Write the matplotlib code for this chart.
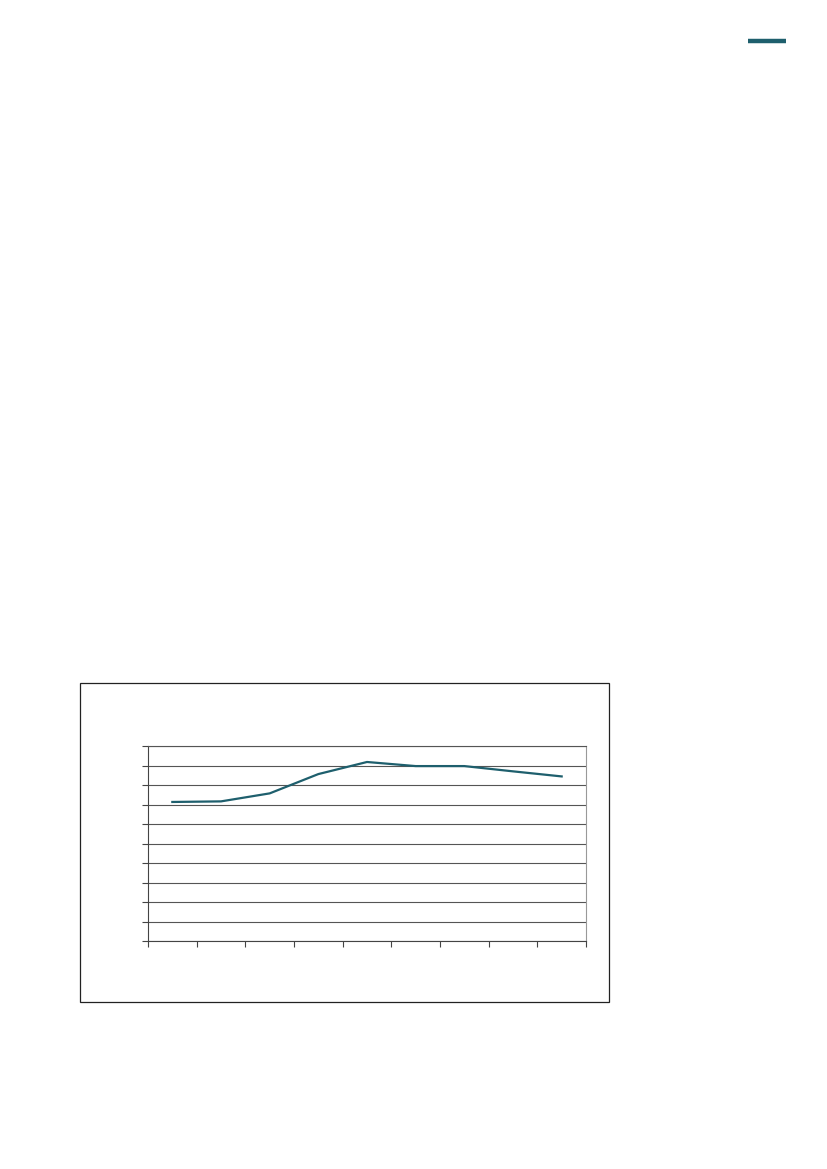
import matplotlib
matplotlib.use('Agg')
from matplotlib import pyplot as plt
from matplotlib.patches import Rectangle
from matplotlib.lines import Line2D

# nine categories, values on a 0-10 scale (no labels printed in the source)
categories = list(range(9))
values = [7.13, 7.16, 7.57, 8.56, 9.18, 8.97, 8.97, 8.70, 8.44]
y_ticks = list(range(0, 11))
x_edges = [i - 0.5 for i in range(10)]

teal = '#1e5f6d'

fig = plt.figure(figsize=(8.27, 11.69), dpi=100)

# outer chart frame
fig.patches.append(Rectangle((80 / 827, 1 - 1002 / 1169), 529 / 827, 319 / 1169,
                             transform=fig.transFigure, fill=False,
                             edgecolor='#222222', linewidth=0.9))

# small teal bar in the top right corner
fig.add_artist(Line2D([748 / 827, 786 / 827], [1 - 41 / 1169, 1 - 41 / 1169],
                      transform=fig.transFigure, color=teal, linewidth=3.2,
                      solid_capstyle='butt'))

ax = fig.add_axes([148 / 827, 1 - 941 / 1169, 438 / 827, 195 / 1169])
ax.plot(categories, values, color=teal, linewidth=1.6)

ax.set_xlim(-0.5, 8.5)
ax.set_ylim(0, 10)
ax.set_yticks(y_ticks)
ax.set_xticks(x_edges)
ax.set_yticklabels([])
ax.set_xticklabels([])
ax.tick_params(axis='both', direction='out', length=4, width=0.8, color='#444444')
ax.grid(axis='y', color='#555555', linewidth=0.8)
ax.set_axisbelow(True)

ax.spines['left'].set_color('#444444')
ax.spines['bottom'].set_color('#444444')
ax.spines['top'].set_color('#555555')
ax.spines['right'].set_color('#999999')
for s in ax.spines.values():
    s.set_linewidth(0.8)

fig.savefig('out.png', dpi=100)
